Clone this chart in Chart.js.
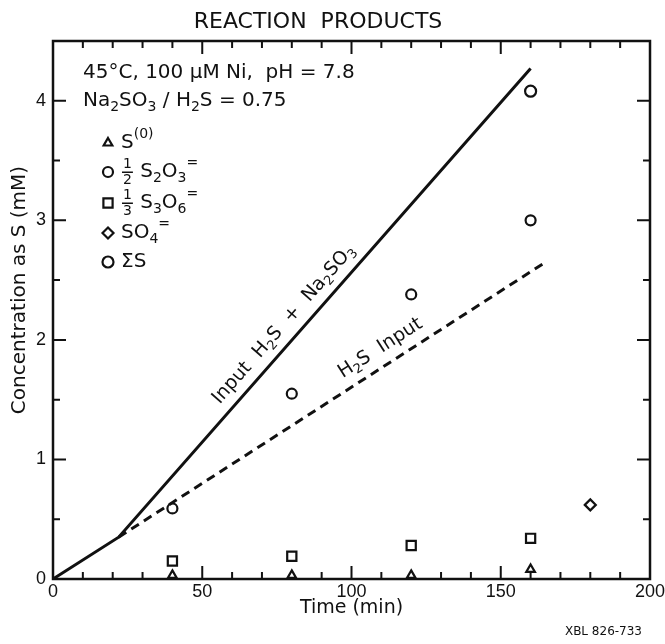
<!DOCTYPE html>
<html>
<head>
<meta charset="utf-8">
<script src="https://cdn.jsdelivr.net/npm/chart.js@4.4.1/dist/chart.umd.min.js"></script>
<style>
html, body { margin: 0; padding: 0; background: #fff; }
</style>
</head>
<body>
<canvas id="canvas" width="665" height="644"></canvas>
<script>
// values
var times = [40, 80, 120, 160];
var s0 = [0.03, 0.03, 0.03, 0.08];
var thiosulfate = [0.59, 1.55, 2.38, 3.0];    // 1/2 S2O3=
var trithionate = [0.15, 0.19, 0.28, 0.34];   // 1/3 S3O6=
var sulfateTime = [180];
var sulfate = [0.62];                         // SO4=
var sumTime = [160];
var sumS = [4.08];                            // sum S
var inputTotalX = [0, 22, 160];               // Input H2S + Na2SO3
var inputTotalY = [0, 0.35, 4.27];
var inputH2SX = [22, 165];                    // H2S Input
var inputH2SY = [0.35, 2.65];
var xTicks = [0, 50, 100, 150, 200];
var yTicks = [0, 1, 2, 3, 4];

var FONT = '"DejaVu Sans", sans-serif';
var INK = '#111';

function toPoints(xs, ys){
    var pts = [];
    for (var i = 0; i < xs.length; i++){
        pts.push({x: xs[i], y: ys[i]});
    }
    return pts;
}

// draws text with subscripts, superscripts and stacked fractions
function drawRich(ctx, parts, x, y, size, align){
    var small = Math.round(size * 0.68);
    var widths = [];
    var total = 0;
    for (var p of parts){
        var w;
        if (p[1] == 'frac'){
            ctx.font = small + 'px ' + FONT;
            var nd = p[0].split('/');
            w = Math.max(ctx.measureText(nd[0]).width, ctx.measureText(nd[1]).width) + 4;
        } else {
            ctx.font = (p[1] ? small : size) + 'px ' + FONT;
            w = ctx.measureText(p[0]).width;
        }
        widths.push(w);
        total += w;
    }
    var cx = x;
    if (align == 'center') cx = x - total / 2;
    if (align == 'right') cx = x - total;
    ctx.textBaseline = 'middle';
    ctx.textAlign = 'left';
    for (var i = 0; i < parts.length; i++){
        var t = parts[i][0], kind = parts[i][1];
        if (kind == 'frac'){
            var nd = t.split('/');
            ctx.font = small + 'px ' + FONT;
            ctx.textAlign = 'center';
            ctx.fillText(nd[0], cx + widths[i] / 2, y - small * 0.55);
            ctx.fillText(nd[1], cx + widths[i] / 2, y + small * 0.6);
            ctx.fillRect(cx + 1, y - 0.5, widths[i] - 2, 1.5);
            ctx.textAlign = 'left';
        } else if (kind == 'sub'){
            ctx.font = small + 'px ' + FONT;
            ctx.fillText(t, cx, y + size * 0.3);
        } else if (kind == 'sup'){
            ctx.font = small + 'px ' + FONT;
            ctx.fillText(t, cx, y - size * 0.42);
        } else {
            ctx.font = size + 'px ' + FONT;
            ctx.fillText(t, cx, y);
        }
        cx += widths[i];
    }
}

var legendItems = [
    {style: 'triangle', radius: 5, parts: [['S', ''], ['(0)', 'sup']]},
    {style: 'circle', radius: 5, parts: [['1/2', 'frac'], [' S', ''], ['2', 'sub'], ['O', ''], ['3', 'sub'], ['=', 'sup']]},
    {style: 'rect', radius: 6.5, parts: [['1/3', 'frac'], [' S', ''], ['3', 'sub'], ['O', ''], ['6', 'sub'], ['=', 'sup']]},
    {style: 'rectRot', radius: 5.5, parts: [['SO', ''], ['4', 'sub'], ['=', 'sup']]},
    {style: 'circle', radius: 5.5, parts: [['\u03A3S', '']]}
];

var framePlugin = {
    id: 'frame',
    beforeDatasetsDraw: function(chart){
        var ctx = chart.ctx;
        var a = chart.chartArea;
        var xs = chart.scales.x, ys = chart.scales.y;
        ctx.save();
        ctx.strokeStyle = INK;
        ctx.lineWidth = 2.5;
        ctx.strokeRect(a.left, a.top, a.right - a.left, a.bottom - a.top);
        ctx.lineWidth = 2;
        ctx.beginPath();
        for (var v = 0; v <= 200; v += 10){
            var px = xs.getPixelForValue(v);
            var len = (v % 50 == 0) ? 13 : 7;
            ctx.moveTo(px, a.bottom); ctx.lineTo(px, a.bottom - len);
            ctx.moveTo(px, a.top); ctx.lineTo(px, a.top + len);
        }
        for (var k = 0; k <= 9; k++){
            var val = k * 0.5;
            var py = ys.getPixelForValue(val);
            var len2 = (k % 2 == 0) ? 13 : 7;
            ctx.moveTo(a.left, py); ctx.lineTo(a.left + len2, py);
            ctx.moveTo(a.right, py); ctx.lineTo(a.right - len2, py);
        }
        ctx.stroke();
        ctx.restore();
    },
    afterDraw: function(chart){
        var ctx = chart.ctx;
        var xs = chart.scales.x, ys = chart.scales.y;
        ctx.save();
        ctx.fillStyle = INK;

        // title
        ctx.font = '22px ' + FONT;
        ctx.textAlign = 'center';
        ctx.textBaseline = 'middle';
        ctx.fillText('REACTION  PRODUCTS', 318, 22);

        // y axis title
        ctx.save();
        ctx.translate(20, 290);
        ctx.rotate(-Math.PI / 2);
        ctx.font = '20px ' + FONT;
        ctx.fillText('Concentration as S (mM)', 0, 0);
        ctx.restore();

        // conditions
        drawRich(ctx, [['45\u00B0C, 100 \u03BCM Ni,  pH = 7.8', '']], 83, 73, 20, 'left');
        drawRich(ctx, [['Na', ''], ['2', 'sub'], ['SO', ''], ['3', 'sub'], [' / H', ''], ['2', 'sub'], ['S = 0.75', '']], 83, 101, 20, 'left');

        // legend
        var rows = [143, 172, 203, 233, 262];
        for (var i = 0; i < legendItems.length; i++){
            var it = legendItems[i];
            ctx.fillStyle = '#fff';
            ctx.strokeStyle = INK;
            ctx.lineWidth = 2.2;
            Chart.helpers.drawPoint(ctx, {pointStyle: it.style, radius: it.radius, rotation: 0, borderWidth: 2.2}, 108, rows[i]);
            ctx.fillStyle = INK;
            drawRich(ctx, it.parts, 121, rows[i], 20, 'left');
        }

        // labels along the two input lines
        var ang1 = Math.atan2(ys.getPixelForValue(inputTotalY[2]) - ys.getPixelForValue(inputTotalY[1]),
                              xs.getPixelForValue(inputTotalX[2]) - xs.getPixelForValue(inputTotalX[1]));
        ctx.save();
        ctx.translate(xs.getPixelForValue(77.3), ys.getPixelForValue(2.13));
        ctx.rotate(ang1);
        drawRich(ctx, [['Input  H', ''], ['2', 'sub'], ['S  +  Na', ''], ['2', 'sub'], ['SO', ''], ['3', 'sub']], 0, 0, 19, 'center');
        ctx.restore();

        var ang2 = Math.atan2(ys.getPixelForValue(inputH2SY[1]) - ys.getPixelForValue(inputH2SY[0]),
                              xs.getPixelForValue(inputH2SX[1]) - xs.getPixelForValue(inputH2SX[0]));
        ctx.save();
        ctx.translate(xs.getPixelForValue(109.7), ys.getPixelForValue(1.93));
        ctx.rotate(ang2);
        drawRich(ctx, [['H', ''], ['2', 'sub'], ['S  Input', '']], 0, 0, 19, 'center');
        ctx.restore();

        // figure number
        ctx.font = '12px ' + FONT;
        ctx.textAlign = 'right';
        ctx.textBaseline = 'middle';
        ctx.fillText('XBL 826-733', 642, 632);
        ctx.restore();
    }
};

function markerSet(xs, ys, style, radius){
    return {
        type: 'scatter',
        data: toPoints(xs, ys),
        pointStyle: style,
        pointRadius: radius,
        pointBorderWidth: 2.2,
        pointBackgroundColor: '#fff',
        pointBorderColor: INK,
        showLine: false,
        clip: false
    };
}

var ctx = document.getElementById('canvas').getContext('2d');
var chart = new Chart(ctx, {
    type: 'scatter',
    data: {
        datasets: [
            {
                data: toPoints(inputTotalX, inputTotalY),
                showLine: true,
                borderColor: INK,
                borderWidth: 3,
                pointRadius: 0
            },
            {
                data: toPoints(inputH2SX, inputH2SY),
                showLine: true,
                borderColor: INK,
                borderWidth: 3,
                borderDash: [9, 6],
                pointRadius: 0
            },
            markerSet(times, s0, 'triangle', 5),
            markerSet(times, thiosulfate, 'circle', 5),
            markerSet(times, trithionate, 'rect', 6.5),
            markerSet(sulfateTime, sulfate, 'rectRot', 5.5),
            markerSet(sumTime, sumS, 'circle', 5.5)
        ]
    },
    options: {
        responsive: false,
        animation: false,
        devicePixelRatio: 1,
        layout: {padding: {left: 0, right: 0, top: 41, bottom: 0}},
        plugins: {
            legend: {display: false},
            tooltip: {enabled: false}
        },
        scales: {
            x: {
                type: 'linear',
                min: 0,
                max: 200,
                afterBuildTicks: function(scale){ scale.ticks = xTicks.map(v => ({value: v})); },
                afterFit: function(scale){
                    scale.height = 65;
                    scale.paddingLeft = 0;
                    scale.paddingRight = 15;
                },
                grid: {display: false, drawTicks: false},
                border: {display: false},
                ticks: {color: INK, font: {family: 'Liberation Sans', size: 18}, padding: 2, maxRotation: 0},
                title: {display: true, text: 'Time (min)', color: INK, font: {family: 'DejaVu Sans', size: 19}, padding: {top: 0, bottom: 25}}
            },
            y: {
                type: 'linear',
                min: 0,
                max: 4.5,
                afterBuildTicks: function(scale){ scale.ticks = yTicks.map(v => ({value: v})); },
                afterFit: function(scale){
                    scale.width = 53;
                    scale.paddingTop = 0;
                    scale.paddingBottom = 0;
                },
                grid: {display: false, drawTicks: false},
                border: {display: false},
                ticks: {color: INK, font: {family: 'Liberation Sans', size: 18}, padding: 7},
                title: {display: false}
            }
        }
    },
    plugins: [framePlugin]
});
</script>
</body>
</html>
